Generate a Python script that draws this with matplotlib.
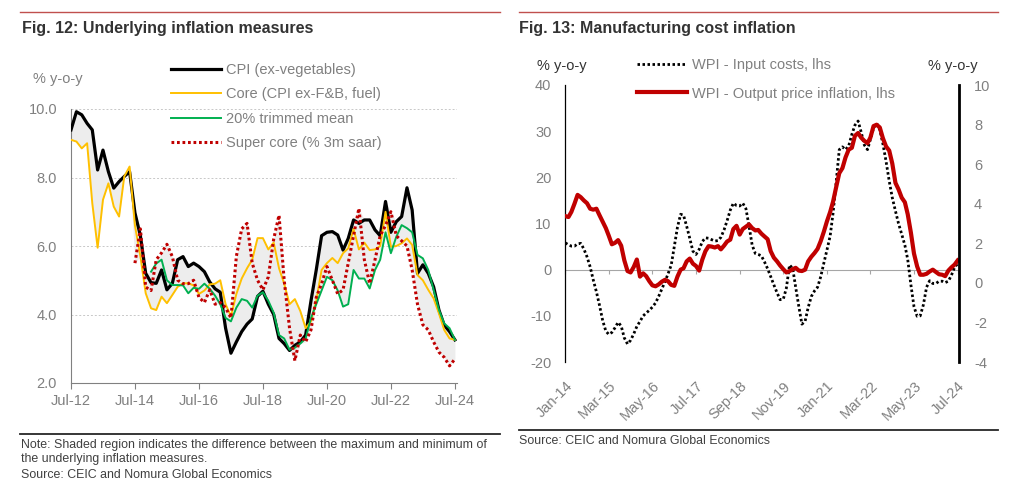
import numpy as np
import pandas as pd
import matplotlib
matplotlib.use('Agg')
import matplotlib.pyplot as plt
import matplotlib.dates as mdates
from matplotlib.lines import Line2D

plt.rcParams['font.family'] = ['Liberation Sans', 'DejaVu Sans']
plt.rcParams['axes.unicode_minus'] = False

# ---- Fig. 12 data (bi-monthly, Jul-12 .. Jul-24) ----
dates12 = pd.date_range('2012-07-01', '2024-07-01', freq='2MS')
na = np.nan
cpi_exveg = [9.39, 9.92, 9.83, 9.58, 9.39, 8.22, 8.80, 8.17, 7.69, 7.88, 8.03, 8.17,
             6.97, 6.3, 5.2, 4.93, 4.91, 5.3, 4.72, 4.91, 5.6, 5.69, 5.4, 5.5,
             5.4, 5.25, 4.95, 4.75, 4.65, 3.6, 2.87, 3.2, 3.5, 3.72, 3.87, 4.53,
             4.68, 4.3, 4.0, 3.3, 3.15, 2.95, 3.1, 3.2, 3.4, 4.4, 5.3, 6.3,
             6.4, 6.42, 6.32, 5.88, 6.22, 6.76, 6.66, 6.76, 6.76, 6.47, 6.3, 7.3,
             6.4, 6.71, 6.86, 7.7, 7.05, 5.2, 5.45, 5.2, 4.81, 4.13, 3.69, 3.5, 3.26]
core = [9.1, 9.05, 8.85, 9.0, 7.25, 5.95, 7.35, 7.83, 7.15, 6.86, 8.03, 8.32,
        6.6, 5.7, 4.62, 4.18, 4.13, 4.52, 4.33, 4.57, 4.81, 4.91, 4.91, 4.85,
        4.6, 4.7, 4.88, 4.9, 5.0, 4.3, 3.95, 4.6, 5.05, 5.35, 5.6, 6.23,
        6.23, 5.9, 6.1, 5.35, 4.9, 4.3, 4.45, 4.1, 3.6, 3.8, 4.4, 5.3,
        5.5, 5.65, 5.5, 5.79, 5.93, 6.5, 5.9, 6.1, 5.88, 5.9, 6.0, 7.0,
        5.98, 6.0, 6.08, 6.22, 6.03, 5.15, 5.0, 4.72, 4.47, 4.03, 3.55, 3.3, 3.26]
trimmed_mean = [na] * 15 + [
        5.25, 5.49, 5.6, 5.0, 4.86, 4.86, 4.85, 4.62, 4.78,
        4.75, 4.9, 4.75, 4.55, 4.3, 3.9, 3.8, 4.2, 4.45, 4.4, 4.2, 4.55,
        4.65, 4.4, 4.05, 3.4, 3.3, 2.97, 3.03, 3.15, 3.3, 3.9, 4.3, 4.7,
        5.1, 5.0, 4.7, 4.23, 4.3, 5.3, 5.05, 5.05, 4.76, 5.3, 5.6, 6.4,
        5.79, 6.27, 6.61, 6.52, 6.4, 5.74, 5.64, 5.3, 4.72, 4.13, 3.74, 3.6, 3.26]
super_core = [na] * 12 + [
        5.5, 6.5, 4.8, 4.7, 5.6, 5.8, 6.05, 5.69, 5.0, 4.9, 4.9, 5.0,
        4.5, 4.35, 4.72, 4.3, 4.35, 4.2, 3.9, 5.7, 6.5, 6.66, 5.5, 5.0,
        4.72, 5.1, 6.2, 6.9, 5.0, 3.6, 2.65, 3.4, 3.2, 3.55, 4.5, 4.9,
        5.4, 5.0, 4.6, 4.72, 5.5, 6.3, 7.1, 5.6, 4.9, 5.6, 6.3, 6.6,
        7.0, 6.3, 6.15, 6.0, 5.3, 4.3, 3.7, 3.55, 3.2, 2.9, 2.75, 2.5, 2.7]

# ---- Fig. 13 data (monthly, Jan-14 .. Jul-24) ----
dates14 = pd.date_range('2014-01-01', '2024-07-01', freq='MS')
wpi_input = [5.8, 5.4, 5.1, 5.1, 5.6, 5.7, 4.5, 2.8, 0.6, -2.2, -4.8, -7.7,
             -11.0, -13.3, -14.0, -13.6, -12.6, -11.4, -12.2, -14.8, -16.1, -15.3, -13.9, -12.3,
             -11.2, -10.0, -9.4, -8.8, -8.1, -7.2, -5.8, -4.2, -2.6, -0.9, 1.0, 5.0,
             9.2, 12.0, 11.8, 9.4, 6.8, 4.0, 3.3, 4.4, 6.1, 6.9, 6.8, 6.5,
             6.2, 6.3, 7.0, 8.6, 10.6, 12.9, 14.4, 13.9, 13.8, 14.4, 13.2, 9.5,
             5.3, 3.5, 3.3, 3.0, 1.7, 0.2, -1.5, -3.3, -5.0, -6.5, -6.4, -4.0,
             1.0, 0.3, -3.8, -8.0, -11.8, -11.2, -8.2, -5.8, -4.6, -3.8, -1.5, 1.4,
             4.3, 7.3, 12.2, 19.0, 26.0, 26.6, 26.0, 26.8, 29.3, 31.3, 32.2, 29.8,
             27.0, 26.0, 28.2, 30.7, 31.7, 30.3, 27.3, 23.5, 19.2, 15.6, 12.7, 10.0,
             7.7, 5.3, 2.2, -3.3, -8.0, -10.1, -10.0, -7.6, -3.8, -2.4, -3.0, -3.0,
             -2.5, -2.5, -2.8, -2.5, -1.2, 0.5, 1.3]
wpi_output = [11.6, 11.4, 12.5, 14.3, 16.2, 15.7, 15.0, 14.4, 13.2, 13.0, 13.2, 11.8,
              10.4, 9.0, 7.4, 5.5, 5.8, 6.4, 5.2, 2.0, -0.3, -0.6, 0.6, 2.2,
              -1.5, -0.8, -1.4, -2.5, -3.4, -3.6, -3.2, -2.6, -2.2, -2.5, -3.3, -3.5,
              -1.5, 0.0, 0.3, 1.8, 2.4, 1.3, 0.8, -0.2, 2.2, 4.0, 5.1, 5.0,
              4.8, 5.1, 4.4, 5.2, 6.1, 6.5, 8.8, 9.5, 7.6, 8.8, 9.3, 9.8,
              9.0, 8.5, 8.6, 7.8, 7.2, 6.6, 4.0, 2.6, 1.8, 0.9, 0.1, -0.6,
              -0.3, 0.1, 0.4, -0.2, -0.3, 0.0, 1.8, 2.8, 3.6, 4.5, 6.2, 8.2,
              10.5, 12.5, 14.7, 17.9, 20.9, 22.0, 24.3, 26.0, 26.4, 29.0, 29.6, 28.6,
              27.9, 27.4, 28.6, 31.1, 31.4, 30.8, 28.5, 26.7, 25.8, 23.0, 18.8, 17.4,
              15.6, 14.6, 12.0, 8.0, 3.5, 0.7, -1.1, -1.1, -0.9, -0.4, 0.0, -0.5,
              -1.0, -1.1, -1.4, -0.2, 0.5, 1.1, 2.0]

GRAY = '#808080'
DARK = '#333333'
W, H = 1024, 495

fig = plt.figure(figsize=(10.24, 4.95), dpi=100)


def fx(px):
    return px / W


def fy(py):
    return 1 - py / H


# ---------------- Fig. 12 ----------------
ax1 = fig.add_axes([fx(71), fy(383), fx(457) - fx(71), fy(109) - fy(383)])
series = np.array([cpi_exveg, core, trimmed_mean, super_core], dtype=float)
ax1.fill_between(dates12, np.nanmin(series, axis=0), np.nanmax(series, axis=0),
                 color='#EDEDED', lw=0, zorder=1)
ax1.plot(dates12, cpi_exveg, color='black', lw=2.3, label='CPI (ex-vegetables)', zorder=3)
ax1.plot(dates12, core, color='#FFC000', lw=1.4, label='Core (CPI ex-F&B, fuel)', zorder=4)
ax1.plot(dates12, trimmed_mean, color='#00B050', lw=1.4, label='20% trimmed mean', zorder=5)
ax1.plot(dates12, super_core, color='#C00000', lw=2.2, ls=(0, (0.9, 0.9)),
         label='Super core (% 3m saar)', zorder=6)

ax1.set_ylim(2, 10)
ax1.set_xlim(dates12[0], pd.Timestamp('2024-07-25'))
ax1.set_yticks([2, 4, 6, 8, 10])
ax1.yaxis.set_major_formatter(matplotlib.ticker.FormatStrFormatter('%.1f'))
ax1.set_xticks(pd.date_range('2012-07-01', '2024-07-01', freq='24MS'))
ax1.xaxis.set_major_formatter(mdates.DateFormatter('%b-%y'))
ax1.yaxis.grid(True, color='#C8C8C8', ls=(0, (2, 2)), lw=0.7)
ax1.set_axisbelow(True)
for s in ['top', 'right']:
    ax1.spines[s].set_visible(False)
for s in ['left', 'bottom']:
    ax1.spines[s].set_color(GRAY)
ax1.tick_params(axis='y', length=0, pad=10, labelsize=10.5, labelcolor=GRAY)
ax1.tick_params(axis='x', length=4, color=GRAY, pad=4, labelsize=10.5, labelcolor=GRAY)

ax1.legend(loc='upper left', bbox_to_anchor=(fx(171), fy(63)), bbox_transform=fig.transFigure,
           frameon=False, fontsize=10.5, labelcolor=GRAY, handlelength=3.4,
           handletextpad=0.35, labelspacing=0.72, borderpad=0, borderaxespad=0)

fig.text(fx(33), fy(79), '% y-o-y', fontsize=10.5, color=GRAY, va='center')

# ---------------- Fig. 13 ----------------
ax2 = fig.add_axes([fx(565.3), fy(362), fx(958.7) - fx(565.3), fy(85) - fy(362)])
ax2.plot(dates14, wpi_input, color='black', lw=2.0, ls=(0, (0.9, 0.9)),
         label='WPI - Input costs, lhs', zorder=3)
ax2.plot(dates14, wpi_output, color='#C00000', lw=3.0, label='WPI - Output price inflation, lhs',
         zorder=4)
ax2.axhline(0, color='#A6A6A6', lw=0.8, zorder=1)
ax2.set_ylim(-20, 40)
ax2.set_yticks(range(-20, 41, 10))
ax2.set_xlim(dates14[0], dates14[-1] + pd.Timedelta(days=10))
xt = dates14[::14]
ax2.set_xticks(xt)
ax2.xaxis.set_major_formatter(mdates.DateFormatter('%b-%y'))
ax2.tick_params(axis='x', length=0, pad=12, labelsize=10.5, labelcolor=GRAY)
for lbl in ax2.get_xticklabels():
    lbl.set_rotation(45)
    lbl.set_ha('right')
    lbl.set_rotation_mode('anchor')
ax2.tick_params(axis='y', length=0, pad=10, labelsize=10.5, labelcolor=GRAY)
for s in ['top', 'right', 'bottom']:
    ax2.spines[s].set_visible(False)
ax2.spines['left'].set_color('black')
ax2.spines['left'].set_linewidth(0.9)

zero_ax = ax2.secondary_xaxis(1 / 3)
zero_ax.set_xticks(xt)
zero_ax.tick_params(axis='x', length=3, color='#A6A6A6', labelbottom=False)
zero_ax.spines['bottom'].set_visible(False)

ax2r = ax2.twinx()
ax2r.set_ylim(-4, 10)
ax2r.set_yticks(range(-4, 11, 2))
ax2r.tick_params(axis='y', length=0, pad=11, labelsize=10.5, labelcolor=GRAY)
for s in ['top', 'left', 'bottom']:
    ax2r.spines[s].set_visible(False)
ax2r.spines['right'].set_color('black')
ax2r.spines['right'].set_linewidth(2.0)

h, l = ax2.get_legend_handles_labels()
ax2.legend(h, l, loc='upper left', bbox_to_anchor=(fx(637), fy(58)), bbox_transform=fig.transFigure,
           frameon=False, fontsize=10.5, labelcolor=GRAY, handlelength=3.4,
           handletextpad=0.4, labelspacing=1.0, borderpad=0, borderaxespad=0)

fig.text(fx(537), fy(66), '% y-o-y', fontsize=10.5, color=DARK, va='center')
fig.text(fx(928), fy(66), '% y-o-y', fontsize=10.5, color=DARK, va='center')

# ---------------- frame texts and rules ----------------
for x0, x1 in [(20, 500), (519, 998)]:
    fig.add_artist(Line2D([fx(x0), fx(x1)], [fy(12), fy(12)], color='#C0504D', lw=1.0))
fig.add_artist(Line2D([fx(20), fx(500)], [fy(433.5), fy(433.5)], color='#262626', lw=1.3))
fig.add_artist(Line2D([fx(519), fx(998)], [fy(429.5), fy(429.5)], color='#262626', lw=1.3))

fig.text(fx(22), fy(28), 'Fig. 12: Underlying inflation measures', fontsize=11.5,
         fontweight='bold', color=DARK, va='center')
fig.text(fx(519), fy(28), 'Fig. 13: Manufacturing cost inflation', fontsize=11.5,
         fontweight='bold', color=DARK, va='center')

NOTE_FS = 8.9
fig.text(fx(21), fy(445), 'Note: Shaded region indicates the difference between the maximum and minimum of',
         fontsize=NOTE_FS, color='#404040', va='center')
fig.text(fx(21), fy(459), 'the underlying inflation measures.', fontsize=NOTE_FS, color='#404040',
         va='center')
fig.text(fx(21), fy(475), 'Source: CEIC and Nomura Global Economics', fontsize=NOTE_FS, color='#404040',
         va='center')
fig.text(fx(519), fy(441.5), 'Source: CEIC and Nomura Global Economics', fontsize=NOTE_FS,
         color='#404040', va='center')

fig.savefig('out.png', dpi=100)
